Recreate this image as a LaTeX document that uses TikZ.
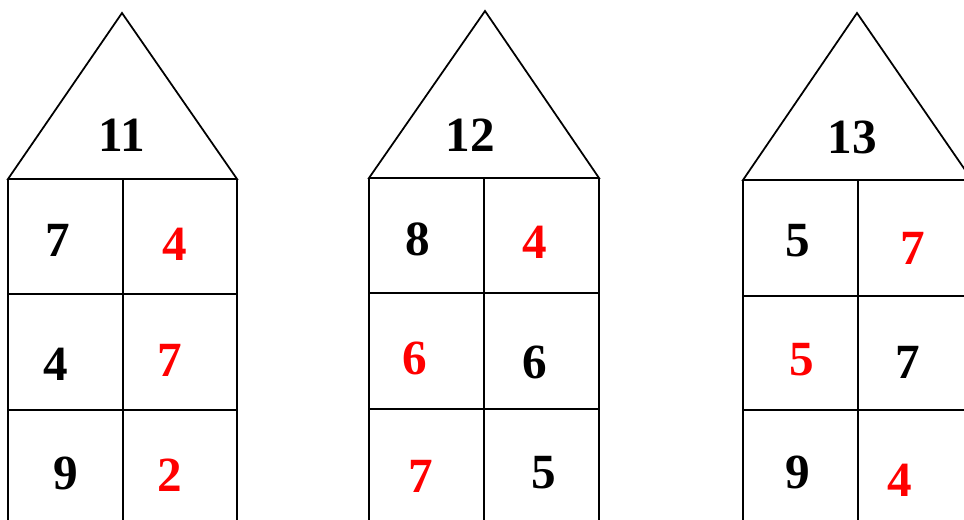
\documentclass[tikz,border=0pt]{standalone}
\usepackage{fontspec}
\setmainfont{Liberation Serif}
\begin{document}
\begin{tikzpicture}[x=0.02cm,y=-0.02cm,line width=1pt,
  num/.style={font=\fontsize{28}{30}\selectfont\bfseries,inner sep=0pt},
  rednum/.style={num,text=red}]
\useasboundingbox (0,0) rectangle (964,520);
\clip (0,0) rectangle (964,520);
% Houses: left, middle, right wall, apex x, apex y, top, row lines
\foreach \l/\m/\r/\ax/\ay/\t/\ra/\rb in {8/123/237/122/13/179/294/410,
    369/484/599/485/11/178/293/409,
    743/858/972/857/13/180/296/410} {
    \draw (\l,\t) -- (\ax,\ay) -- (\r,\t) -- cycle;
    \draw (\l,\t) -- (\l,530);
    \draw (\m,\t) -- (\m,530);
    \draw (\r,\t) -- (\r,530);
    \draw (\l,\ra) -- (\r,\ra);
    \draw (\l,\rb) -- (\r,\rb);
}

% House 11
\node[num] (h1roof) at (122,135) {11};
\node[num] (h1a) at (58,240) {7};
\node[rednum] (h1b) at (175,244) {4};
\node[num] (h1c) at (56,364) {4};
\node[rednum] (h1d) at (170,360) {7};
\node[num] (h1e) at (66,473) {9};
\node[rednum] (h1f) at (170,475) {2};

% House 12
\node[num] (h2roof) at (470,135) {12};
\node[num] (h2a) at (418,239) {8};
\node[rednum] (h2b) at (535,242) {4};
\node[rednum] (h2c) at (415,358) {6};
\node[num] (h2d) at (535,362) {6};
\node[rednum] (h2e) at (421,476) {7};
\node[num] (h2f) at (544,473) {5};

% House 13
\node[num] (h3roof) at (852,137) {13};
\node[num] (h3a) at (798,241) {5};
\node[rednum] (h3b) at (913,248) {7};
\node[rednum] (h3c) at (802,360) {5};
\node[num] (h3d) at (908,362) {7};
\node[num] (h3e) at (798,472) {9};
\node[rednum] (h3f) at (900,480) {4};
\end{tikzpicture}
\end{document}
